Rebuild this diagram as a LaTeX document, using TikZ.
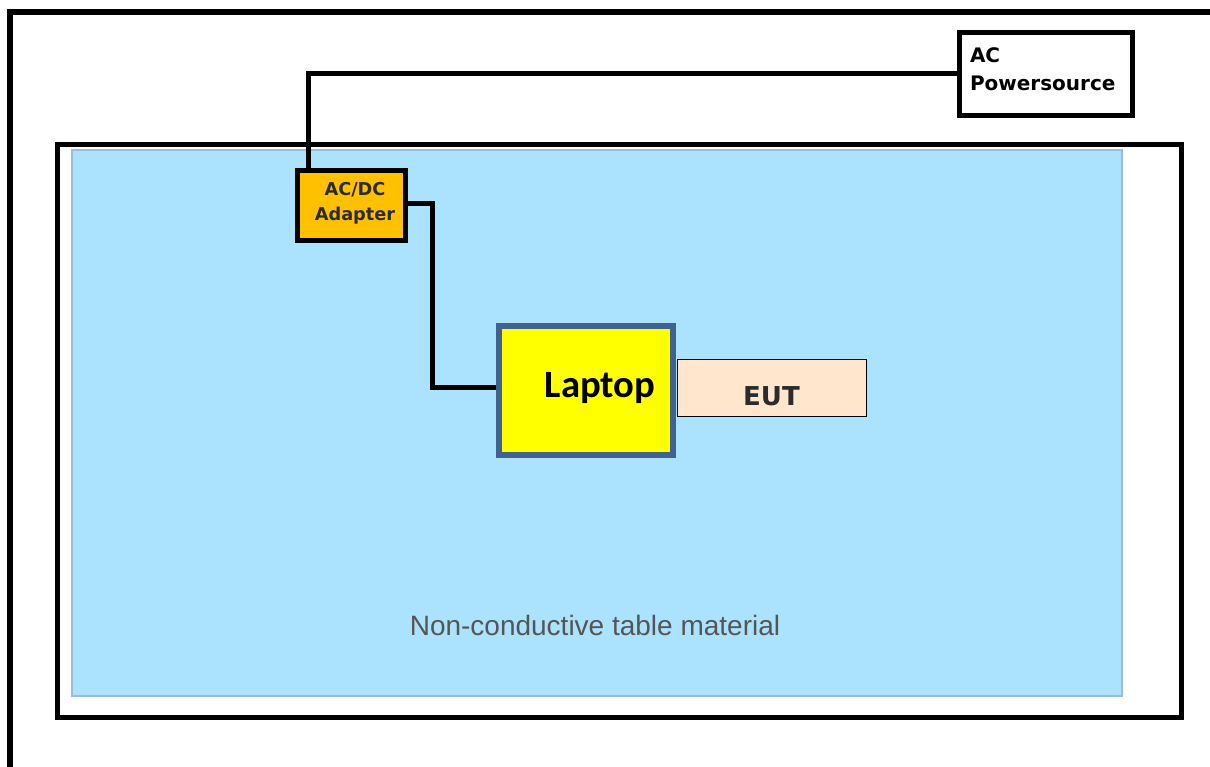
\documentclass[tikz,border=0pt]{standalone}
\usepackage{fontspec}
\newfontfamily\dejavu{DejaVu Sans}
\newfontfamily\carlitofont{Carlito}
\newfontfamily\libsans{Liberation Sans}
\definecolor{tableblue}{HTML}{ABE3FE}
\definecolor{tableedge}{HTML}{98BCE2}
\definecolor{adapterorange}{HTML}{FFC000}
\definecolor{laptopedge}{HTML}{41628F}
\definecolor{laptopfill}{HTML}{FFFF00}
\definecolor{eutfill}{HTML}{FFE6CD}
\definecolor{darktext}{HTML}{2B2B2B}
\definecolor{graytext}{HTML}{555555}
\begin{document}
\begin{tikzpicture}[x=0.75pt,y=-0.75pt,
  every node/.style={inner sep=0pt, outer sep=0pt},
  wire/.style={line width=3.75pt, black},
  thickbox/.style={draw=black, line width=3.75pt, rectangle},
  boldlabel/.style={font=\dejavu\bfseries\fontsize{15}{18}\selectfont, anchor=base west},
  adlabel/.style={font=\dejavu\bfseries\fontsize{13.3}{16}\selectfont, anchor=base, text=darktext}]
\useasboundingbox (0,0) rectangle (1210,767);
\fill[white] (0,0) rectangle (1210,767);
% outer frame (open to right and bottom)
\draw[line width=4.5pt] (1212,12) -- (10,12) -- (10,769);
% table
\node[thickbox, fill=white, minimum width=843pt, minimum height=430.1pt] (table) at (619.5,431.25) {};
\node[draw=tableedge, line width=1.1pt, fill=tableblue, minimum width=787.5pt, minimum height=409.5pt] (material) at (597,423) {};
\node[font=\libsans\fontsize{21}{25}\selectfont, text=graytext, anchor=base] (mattxt) at (595,635) {Non-conductive table material};
% boxes
\node[thickbox, fill=white, minimum width=130.1pt, minimum height=62.25pt] (acsrc) at (1046.25,74) {};
\node[boldlabel] (actxt1) at (970,63) {AC};
\node[boldlabel] (actxt2) at (970,90) {Powersource};
\node[thickbox, fill=adapterorange, minimum width=81pt, minimum height=52.5pt] (adapter) at (351.5,205) {};
\node[adlabel] (adtxt1) at (355,195) {AC/DC};
\node[adlabel] (adtxt2) at (355,220) {Adapter};
\node[draw=laptopedge, line width=4.5pt, fill=laptopfill, minimum width=130.5pt, minimum height=96.75pt] (laptop) at (586,390.5) {};
\node[font=\carlitofont\bfseries\fontsize{29}{34}\selectfont, anchor=base] (laptoptxt) at (600,397) {Laptop};
\node[draw=black, line width=1.3pt, fill=eutfill, minimum width=141.75pt, minimum height=42.75pt] (eut) at (772,388) {};
\node[font=\dejavu\bfseries\fontsize{19.5}{23}\selectfont, text=darktext, anchor=base] (euttxt) at (771.5,405) {EUT};
% wires
\draw[wire] (adapter.north -| 308,0) |- (acsrc.west);
\draw[wire, shorten >=2.25pt] ([yshift=1.5pt]adapter.east) -| (432,300) |- ([yshift=2.5pt]laptop.west);
\end{tikzpicture}
\end{document}
